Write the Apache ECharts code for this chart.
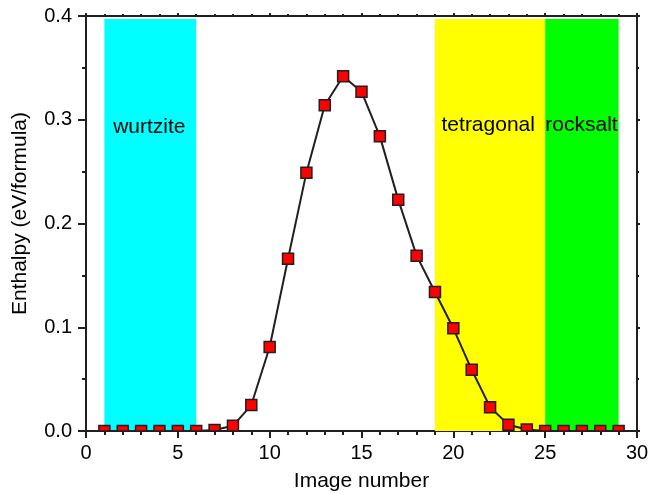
<!DOCTYPE html>
<html>
<head>
<meta charset="utf-8">
<script src="https://cdn.jsdelivr.net/npm/echarts@6/dist/echarts.min.js"></script>
<style>html,body{margin:0;padding:0;background:#fff}#c{width:649px;height:494px}</style>
</head>
<body>
<div id="c"></div>
<script>
const imageNumbers = [1,2,3,4,5,6,7,8,9,10,11,12,13,14,15,16,17,18,19,20,21,22,23,24,25,26,27,28,29];
const enthalpy = [0,0,0,0,0,0,0.001,0.005,0.025,0.081,0.166,0.249,0.314,0.342,0.327,0.284,0.223,0.169,0.134,0.099,0.059,0.023,0.006,0.0015,0,0,0,0,0];
const phaseNames = ['wurtzite','tetragonal','rocksalt'];
const phaseStart = [1,19,25];
const phaseEnd = [6,25,29];
const phaseColors = ['#00ffff','#ffff00','#00ff00'];
const phaseTop = 0.397;
const labelX = [3.45,21.9,26.98];
const labelY = [0.293,0.295,0.295];
const xTicks = [0,5,10,15,20,25,30];
const yTicks = [0.0,0.1,0.2,0.3,0.4];

const axisColor = '#231f20';
const font = 'Arial, "Liberation Sans", Helvetica, sans-serif';
const chart = echarts.init(document.getElementById('c'));
const pts = imageNumbers.map((x,i)=>[x,enthalpy[i]]);

const baseAxis = {
  axisLine:{show:true,onZero:false,lineStyle:{color:axisColor,width:2}},
  splitLine:{show:false}
};

chart.setOption({
  animation:false,
  grid:{left:86,right:12,top:16,bottom:63,containLabel:false,outerBoundsMode:'none'},
  xAxis:[
    Object.assign({}, baseAxis, {
      type:'value',min:xTicks[0],max:xTicks[xTicks.length-1],interval:5,position:'bottom',
      name:'Image number',nameLocation:'middle',nameGap:40,
      nameTextStyle:{fontFamily:font,fontSize:21,color:'#000'},
      axisTick:{show:true,inside:false,length:7,lineStyle:{color:axisColor,width:2}},
      minorTick:{show:true,splitNumber:5,length:4,lineStyle:{color:axisColor,width:2}},
      axisLabel:{fontFamily:font,fontSize:20,color:'#000',margin:12}
    }),
    Object.assign({}, baseAxis, {
      type:'value',min:0,max:30,interval:5,position:'top',
      axisTick:{show:true,inside:false,length:3,lineStyle:{color:axisColor,width:2}},
      minorTick:{show:true,splitNumber:5,length:2,lineStyle:{color:axisColor,width:2}},
      axisLabel:{show:false}
    })
  ],
  yAxis:[
    Object.assign({}, baseAxis, {
      type:'value',min:yTicks[0],max:yTicks[yTicks.length-1],interval:0.1,position:'left',
      name:'Enthalpy (eV/formula)',nameLocation:'middle',nameGap:55,
      nameTextStyle:{fontFamily:font,fontSize:21,color:'#000',padding:[0,0,0,20]},
      axisTick:{show:true,inside:false,length:8,lineStyle:{color:axisColor,width:2}},
      minorTick:{show:true,splitNumber:2,length:4,lineStyle:{color:axisColor,width:2}},
      axisLabel:{fontFamily:font,fontSize:20,color:'#000',margin:14,formatter:v=>v.toFixed(1)}
    }),
    Object.assign({}, baseAxis, {
      type:'value',min:0,max:0.4,interval:0.1,position:'right',
      axisTick:{show:true,inside:false,length:3,lineStyle:{color:axisColor,width:2}},
      minorTick:{show:true,splitNumber:2,length:2,lineStyle:{color:axisColor,width:2}},
      axisLabel:{show:false}
    })
  ],
  series:[
    {
      type:'line',
      data:pts,
      showSymbol:false,
      symbol:'none',
      lineStyle:{color:axisColor,width:2},
      z:3,
      markArea:{
        silent:true,
        data:phaseNames.map((n,i)=>[
          {xAxis:phaseStart[i],yAxis:0,itemStyle:{color:phaseColors[i],opacity:1}},
          {xAxis:phaseEnd[i],yAxis:phaseTop}
        ])
      }
    },
    {
      type:'scatter',
      data:phaseNames.map((n,i)=>({value:[labelX[i],labelY[i]],name:n})),
      symbolSize:0,
      z:4,
      silent:true,
      label:{show:true,position:'inside',formatter:p=>p.name,fontFamily:font,fontSize:21,color:'#000',textBorderWidth:0,opacity:1}
    },
    {
      type:'custom',
      data:pts,
      z:5,
      renderItem:function(params, api){
        const p = api.coord([api.value(0), api.value(1)]);
        const s = 11;
        const cs = params.coordSys;
        const shape = echarts.graphic.clipRectByRect(
          {x:p[0]-s/2,y:p[1]-s/2,width:s,height:s},
          {x:cs.x,y:cs.y,width:cs.width,height:cs.height}
        );
        if(!shape) return null;
        return {type:'rect',shape:shape,style:{fill:'#ff0000',stroke:axisColor,lineWidth:1.5}};
      }
    }
  ]
});
</script>
</body>
</html>
